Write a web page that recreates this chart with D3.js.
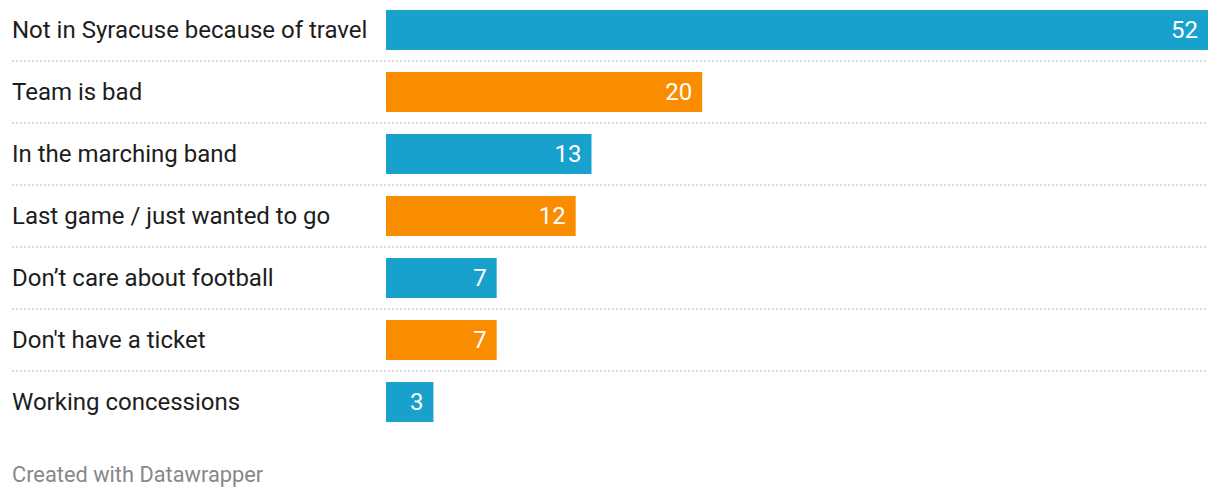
<!DOCTYPE html>
<html>
<head>
<meta charset="utf-8">
<script src="https://cdn.jsdelivr.net/npm/d3@7"></script>
<style>
  body { margin: 0; background: #fff; }
  svg { display: block; font-family: Roboto, sans-serif; }
</style>
</head>
<body>
<svg width="1220" height="498"></svg>
<script>
const categories = [
  'Not in Syracuse because of travel',
  'Team is bad',
  'In the marching band',
  'Last game / just wanted to go',
  'Don\u2019t care about football',
  "Don't have a ticket",
  'Working concessions'
];
const values = [52, 20, 13, 12, 7, 7, 3];
const barColors = ['#18a1cd', '#fa8c00'];

const svg = d3.select('svg');

const x = d3.scaleLinear().domain([0, 52]).range([386, 1208]);
const y = d3.scaleBand().domain(categories).range([-1, 433]).paddingInner(0.355).paddingOuter(0.177);

const rows = categories.map((c, i) => ({ c, v: values[i], i }));

// dotted separators
svg.append('g')
  .selectAll('line')
  .data(rows.slice(0, -1))
  .enter().append('line')
  .attr('x1', 12)
  .attr('x2', 1208)
  .attr('y1', d => y(d.c) + y.bandwidth() + 11)
  .attr('y2', d => y(d.c) + y.bandwidth() + 11)
  .attr('stroke', '#d4d4d4')
  .attr('stroke-width', 1.5)
  .attr('stroke-dasharray', '2,2');

svg.append('g')
  .selectAll('rect')
  .data(rows)
  .enter().append('rect')
  .attr('x', x(0))
  .attr('y', d => y(d.c))
  .attr('width', d => x(d.v) - x(0))
  .attr('height', y.bandwidth())
  .attr('fill', d => barColors[d.i % 2]);

svg.append('g')
  .selectAll('text')
  .data(rows)
  .enter().append('text')
  .attr('x', 12)
  .attr('y', d => y(d.c) + y.bandwidth() / 2)
  .attr('dy', '0.35em')
  .attr('font-size', 24)
  .attr('fill', '#1d1d1d')
  .text(d => d.c);

svg.append('g')
  .selectAll('text')
  .data(rows)
  .enter().append('text')
  .attr('x', d => x(d.v) - 10)
  .attr('y', d => y(d.c) + y.bandwidth() / 2)
  .attr('dy', '0.35em')
  .attr('text-anchor', 'end')
  .attr('font-size', 24)
  .attr('fill', '#fff')
  .text(d => d.v);

svg.append('text')
  .attr('x', 12)
  .attr('y', 482)
  .attr('font-size', 21.8)
  .attr('fill', '#888')
  .text('Created with Datawrapper');
</script>
</body>
</html>
